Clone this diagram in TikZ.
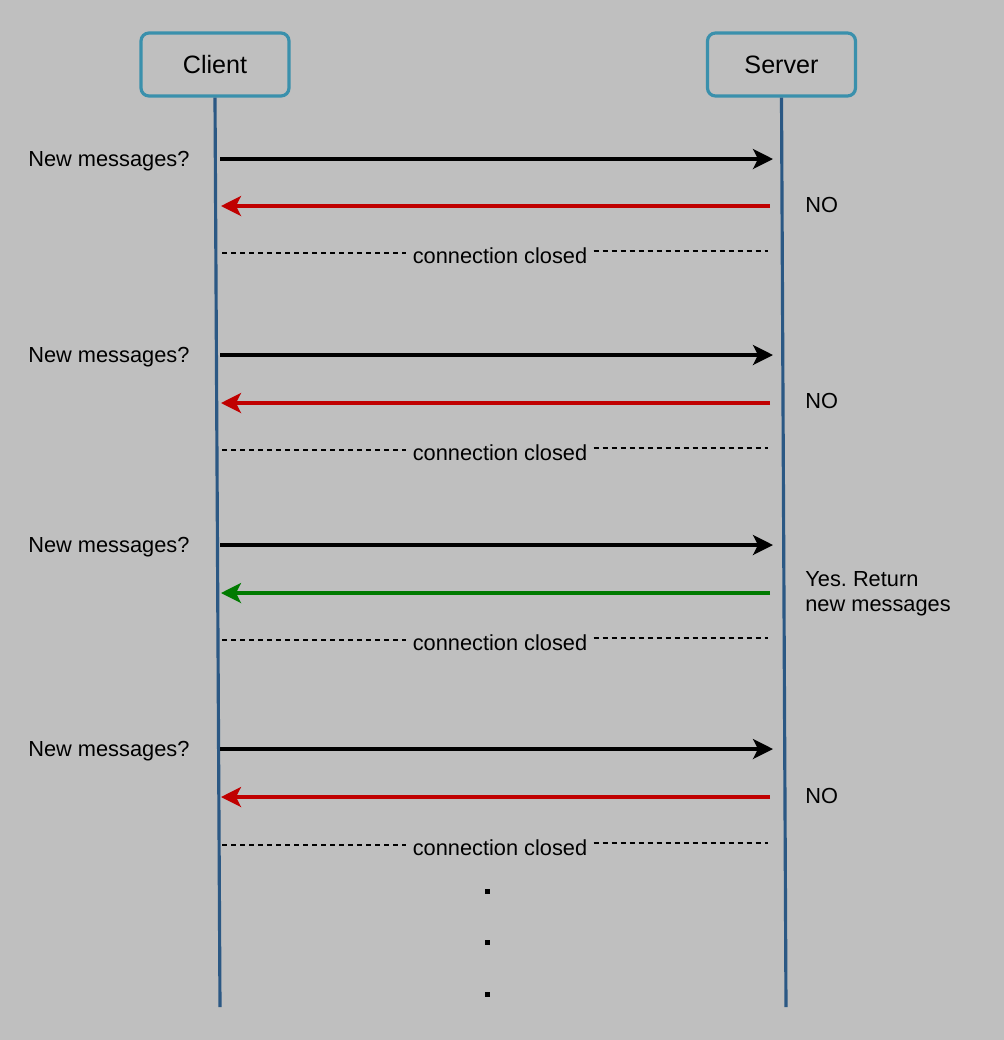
\documentclass[tikz,border=0pt]{standalone}
\usepackage{fontspec}
\setmainfont{Liberation Sans}
\frenchspacing
\usetikzlibrary{arrows.meta}

\definecolor{bggray}{HTML}{BFBFBF}
\definecolor{boxteal}{HTML}{3A90AC}
\definecolor{lifeblue}{HTML}{2B5884}
\definecolor{nored}{HTML}{C00000}
\definecolor{yesgreen}{HTML}{007A00}

\begin{document}
\begin{tikzpicture}[line join=round,
	actor/.style={draw=boxteal, line width=1.8pt, rounded corners=0.16cm, minimum width=2.96cm, minimum height=1.26cm, font=\fontsize{14.3}{17}\selectfont},
	lifeline/.style={lifeblue, line width=1.8pt},
	msg/.style={line width=1.8pt, -{Stealth[length=0.4cm, width=0.4cm, inset=0.1cm]}},
	closed/.style={dash pattern=on 0.1cm off 0.08cm, line width=0.75pt},
	lbl/.style={font=\fontsize{12.4}{14.2}\selectfont, inner sep=0pt},
	dot/.style={fill=black, inner sep=0pt, minimum size=0.1cm}]

\fill[bggray] (0,0) rectangle (20.08,-20.8);
\useasboundingbox (0,0) rectangle (20.08,-20.8);

\node (client) at (4.30, -1.29) [actor] {Client};
\node (server) at (15.63, -1.29) [actor] {Server};

\coordinate (clientend) at (4.40, -20.14);
\coordinate (serverend) at (15.72, -20.14);
\draw[lifeline] (client.south) -- (clientend);
\draw[lifeline] (server.south) -- (serverend);

\coordinate (ask1a) at (4.40, -3.18);
\coordinate (ask1b) at (15.46, -3.18);
\coordinate (ans1a) at (15.40, -4.12);
\coordinate (ans1b) at (4.42, -4.12);
\coordinate (cls1a) at (4.44, -5.06);
\coordinate (cls1b) at (15.36, -5.02);
\node (ask1) at (0.56, -3.22) [lbl, anchor=west] {New messages?};
\node (no1) at (16.10, -4.10) [lbl, anchor=west] {NO};
\draw[msg] (ask1a) -- (ask1b);
\draw[msg, nored] (ans1a) -- (ans1b);
\node (cc1) at (10.0, -5.11) [lbl, inner sep=0.12cm] {connection closed};
\draw[closed] (cls1a) -- (cc1.west |- cls1a);
\draw[closed] (cc1.east |- cls1b) -- (cls1b);

\coordinate (ask2a) at (4.40, -7.10);
\coordinate (ask2b) at (15.46, -7.10);
\coordinate (ans2a) at (15.40, -8.06);
\coordinate (ans2b) at (4.42, -8.06);
\coordinate (cls2a) at (4.44, -9.00);
\coordinate (cls2b) at (15.36, -8.96);
\node (ask2) at (0.56, -7.14) [lbl, anchor=west] {New messages?};
\node (no2) at (16.10, -8.02) [lbl, anchor=west] {NO};
\draw[msg] (ask2a) -- (ask2b);
\draw[msg, nored] (ans2a) -- (ans2b);
\node (cc2) at (10.0, -9.05) [lbl, inner sep=0.12cm] {connection closed};
\draw[closed] (cls2a) -- (cc2.west |- cls2a);
\draw[closed] (cc2.east |- cls2b) -- (cls2b);

\coordinate (ask3a) at (4.40, -10.90);
\coordinate (ask3b) at (15.46, -10.90);
\coordinate (ans3a) at (15.40, -11.86);
\coordinate (ans3b) at (4.42, -11.86);
\coordinate (cls3a) at (4.44, -12.80);
\coordinate (cls3b) at (15.36, -12.76);
\node (ask3) at (0.56, -10.94) [lbl, anchor=west] {New messages?};
\node (yes3) at (16.10, -11.88) [lbl, anchor=west, align=left] {Yes. Return\\new messages};
\draw[msg] (ask3a) -- (ask3b);
\draw[msg, yesgreen] (ans3a) -- (ans3b);
\node (cc3) at (10.0, -12.85) [lbl, inner sep=0.12cm] {connection closed};
\draw[closed] (cls3a) -- (cc3.west |- cls3a);
\draw[closed] (cc3.east |- cls3b) -- (cls3b);

\coordinate (ask4a) at (4.40, -14.98);
\coordinate (ask4b) at (15.46, -14.98);
\coordinate (ans4a) at (15.40, -15.94);
\coordinate (ans4b) at (4.42, -15.94);
\coordinate (cls4a) at (4.44, -16.90);
\coordinate (cls4b) at (15.36, -16.86);
\node (ask4) at (0.56, -15.02) [lbl, anchor=west] {New messages?};
\node (no4) at (16.10, -15.92) [lbl, anchor=west] {NO};
\draw[msg] (ask4a) -- (ask4b);
\draw[msg, nored] (ans4a) -- (ans4b);
\node (cc4) at (10.0, -16.95) [lbl, inner sep=0.12cm] {connection closed};
\draw[closed] (cls4a) -- (cc4.west |- cls4a);
\draw[closed] (cc4.east |- cls4b) -- (cls4b);

\node (dot1) at (9.74, -17.82) [dot] {};
\node (dot2) at (9.74, -18.84) [dot] {};
\node (dot3) at (9.74, -19.88) [dot] {};

\end{tikzpicture}
\end{document}
